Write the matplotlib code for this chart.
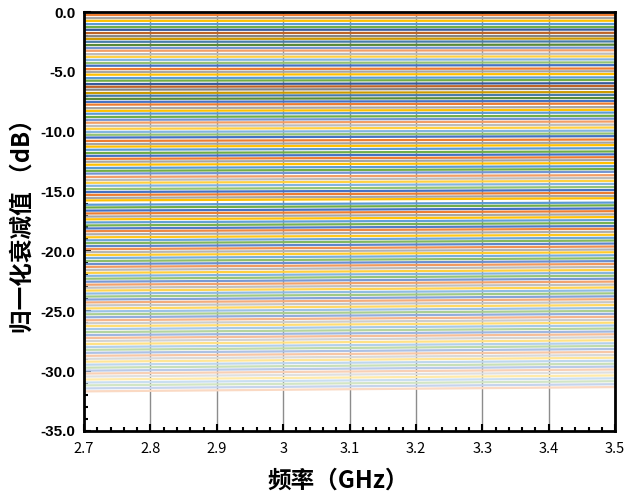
import numpy as np
import matplotlib
matplotlib.use("Agg")
import matplotlib.pyplot as plt
from matplotlib.ticker import MultipleLocator, FixedLocator, FixedFormatter
from matplotlib.colors import to_rgb

plt.rcParams['axes.unicode_minus'] = False

# Frequency sweep endpoints (GHz)
freq = [2.7, 3.5]

# Normalized attenuation of each of the 128 attenuator states at 2.7 GHz (dB)
atten_start = [
    0.00, -0.24, -0.51, -0.74, -1.01, -1.26, -1.49, -1.76,
    -2.02, -2.25, -2.49, -2.76, -3.01, -3.24, -3.52, -3.75,
    -4.00, -4.26, -4.49, -4.77, -5.01, -5.24, -5.52, -5.74,
    -6.02, -6.25, -6.49, -6.77, -7.00, -7.26, -7.51, -7.74,
    -8.03, -8.26, -8.50, -8.77, -9.01, -9.25, -9.52, -9.76,
    -10.02, -10.26, -10.49, -10.77, -11.03, -11.25, -11.51, -11.78,
    -12.02, -12.27, -12.51, -12.76, -13.03, -13.27, -13.50, -13.78,
    -14.03, -14.27, -14.52, -14.79, -15.04, -15.28, -15.53, -15.74,
    -16.10, -16.33, -16.59, -16.83, -17.09, -17.32, -17.58, -17.83,
    -18.08, -18.31, -18.57, -18.82, -19.07, -19.31, -19.56, -19.81,
    -20.06, -20.30, -20.55, -20.80, -21.05, -21.29, -21.54, -21.79,
    -22.04, -22.28, -22.53, -22.78, -23.03, -23.27, -23.52, -23.77,
    -24.02, -24.26, -24.51, -24.76, -25.01, -25.25, -25.50, -25.75,
    -26.00, -26.24, -26.49, -26.74, -26.99, -27.23, -27.48, -27.73,
    -27.98, -28.22, -28.47, -28.72, -28.97, -29.21, -29.46, -29.71,
    -29.96, -30.20, -30.45, -30.70, -30.95, -31.19, -31.44, -31.69,
]

# Normalized attenuation of the same states at 3.5 GHz (dB)
atten_end = [
    0.00, -0.24, -0.50, -0.73, -1.00, -1.25, -1.47, -1.74,
    -2.00, -2.22, -2.46, -2.73, -2.98, -3.20, -3.48, -3.71,
    -3.96, -4.21, -4.44, -4.72, -4.95, -5.18, -5.46, -5.68,
    -5.95, -6.18, -6.42, -6.69, -6.92, -7.18, -7.43, -7.65,
    -7.94, -8.17, -8.40, -8.67, -8.91, -9.15, -9.41, -9.65,
    -9.91, -10.15, -10.37, -10.65, -10.91, -11.12, -11.38, -11.65,
    -11.89, -12.13, -12.37, -12.62, -12.88, -13.12, -13.35, -13.63,
    -13.87, -14.11, -14.36, -14.62, -14.87, -15.11, -15.36, -15.56,
    -15.92, -16.15, -16.41, -16.64, -16.90, -17.13, -17.38, -17.63,
    -17.88, -18.11, -18.36, -18.61, -18.86, -19.09, -19.34, -19.59,
    -19.84, -20.07, -20.32, -20.57, -20.81, -21.05, -21.30, -21.55,
    -21.79, -22.03, -22.28, -22.52, -22.77, -23.01, -23.26, -23.50,
    -23.75, -23.99, -24.24, -24.48, -24.73, -24.97, -25.21, -25.46,
    -25.71, -25.95, -26.19, -26.44, -26.69, -26.92, -27.17, -27.42,
    -27.67, -27.90, -28.15, -28.40, -28.65, -28.88, -29.13, -29.38,
    -29.62, -29.86, -30.11, -30.36, -30.60, -30.84, -31.09, -31.33,
]

x_ticks = [2.7, 2.8, 2.9, 3.0, 3.1, 3.2, 3.3, 3.4, 3.5]
x_tick_labels = ["2.7", "2.8", "2.9", "3", "3.1", "3.2", "3.3", "3.4", "3.5"]

# Office-style accent palette, varied per cycle
accents = ["#4472C4", "#ED7D31", "#A5A5A5", "#FFC000", "#5B9BD5", "#70AD47"]


def series_color(k, n):
    base = np.array(to_rgb(accents[k % 6]))
    cycle = k // 6
    if cycle in (1, 4) and k < 40:
        return tuple(base * 0.8)
    if cycle in (2, 6, 9):
        base = base + (1 - base) * 0.25
    light = max(0.0, (k - 66) / (n - 66)) * 0.72
    return tuple(base + (1 - base) * light)


fig = plt.figure(figsize=(6.27, 5.0), dpi=100)
ax = fig.add_axes([0.134, 0.138, 0.847, 0.838])

n = len(atten_start)
for k in range(n):
    ax.plot(freq, [atten_start[k], atten_end[k]], color=series_color(k, n),
            lw=1.6, solid_capstyle='butt', zorder=2)

ax.set_xlim(2.7, 3.5)
ax.set_ylim(-35, 0)

ax.xaxis.set_major_locator(FixedLocator(x_ticks))
ax.xaxis.set_major_formatter(FixedFormatter(x_tick_labels))
ax.xaxis.set_minor_locator(MultipleLocator(0.02))
ax.yaxis.set_major_locator(MultipleLocator(5))
ax.yaxis.set_minor_locator(MultipleLocator(1))
ax.yaxis.set_major_formatter(matplotlib.ticker.FuncFormatter(lambda v, p: f"{v:.1f}"))

ax.grid(axis='x', which='major', color='#8c8c8c', lw=1.0, zorder=1)
ax.set_axisbelow(True)

ax.tick_params(which='both', direction='in', color='black', width=1.5)
ax.tick_params(which='major', length=5)
ax.tick_params(which='minor', length=3)
ax.tick_params(axis='x', pad=8)
ax.tick_params(axis='y', pad=6)

for lab in ax.get_xticklabels():
    lab.set_fontfamily(['Noto Sans CJK SC', 'DejaVu Sans'])
    lab.set_fontsize(10.5)
for lab in ax.get_yticklabels():
    lab.set_fontfamily('Liberation Sans')
    lab.set_fontsize(11)
    lab.set_fontweight('bold')

for sp in ax.spines.values():
    sp.set_linewidth(2.0)
    sp.set_color('black')

fig.text(0.54, 0.038, "频率（GHz）", ha='center', va='center', fontsize=17,
         fontweight='bold', family=['Noto Sans CJK SC', 'DejaVu Sans'])
fig.text(0.036, 0.56, "归一化衰减值 （dB）", ha='center', va='center', rotation=90,
         fontsize=17, fontweight='bold', family=['Noto Sans CJK SC', 'DejaVu Sans'])

fig.savefig("out.png", dpi=100)
